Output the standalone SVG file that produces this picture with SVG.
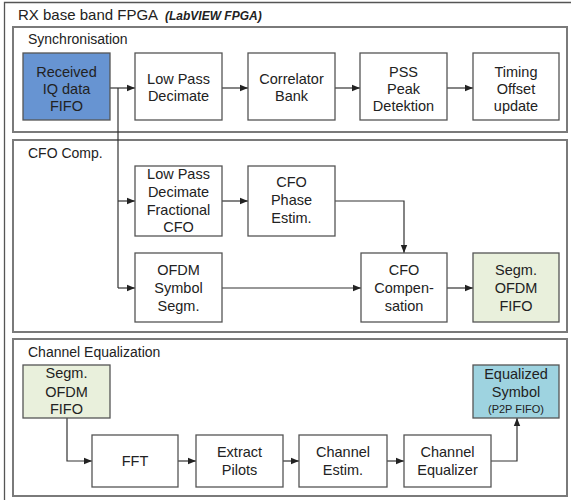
<svg xmlns="http://www.w3.org/2000/svg" width="571" height="500" viewBox="0 0 571 500">
  <style>
    text { font-family: "Liberation Sans", Arial, sans-serif; fill: #222; }
    .title { font-size: 15px; }
    .sub { font-size: 12px; font-weight: bold; font-style: italic; }
    .plabel { font-size: 14px; }
    .lbl { font-size: 14.5px; text-anchor: middle; }
    .small { font-size: 11px; text-anchor: middle; }
    .panel { fill: #fff; stroke: #7a7a7a; stroke-width: 2; }
    .box { fill: #fff; stroke: #555; stroke-width: 1.3; }
    .blue { fill: #6794d2; }
    .green { fill: #e9f0dc; }
    .cyan { fill: #9ed3e0; }
    .wire { fill: none; stroke: #333; stroke-width: 1.2; marker-end: url(#arr); }
    .line { fill: none; stroke: #333; stroke-width: 1.2; }
  </style>
  <defs>
    <marker id="arr" viewBox="0 0 10 10" refX="10" refY="5" markerWidth="8" markerHeight="8" markerUnits="userSpaceOnUse" orient="auto">
      <path d="M0,1 L10,5 L0,9 z" fill="#222"/>
    </marker>
  </defs>

  <rect width="571" height="500" fill="#fff"/>

  <!-- outer FPGA frame -->
  <g id="fpga">
    <path d="M4.5,500 V2.5 H571" fill="none" stroke="#555" stroke-width="1.3"/>
    <text class="title" x="18" y="20">RX base band FPGA</text>
    <text class="sub" x="165" y="20">(LabVIEW FPGA)</text>
  </g>

  <!-- panels -->
  <g id="panel-sync">
    <rect class="panel" x="13" y="27" width="554" height="105"/>
    <text class="plabel" x="28" y="44">Synchronisation</text>
  </g>
  <g id="panel-cfo">
    <rect class="panel" x="13" y="140" width="554" height="192"/>
    <text class="plabel" x="28" y="158">CFO Comp.</text>
  </g>
  <g id="panel-eq">
    <rect class="panel" x="13" y="339" width="554" height="157"/>
    <text class="plabel" x="28" y="357">Channel Equalization</text>
  </g>

  <!-- connectors -->
  <g id="connectors">
    <path class="wire" d="M110,88 H135"/>
    <path class="wire" d="M222,88 H248"/>
    <path class="wire" d="M335,88 H360"/>
    <path class="wire" d="M447,88 H473"/>
    <path class="line" d="M118,88 V288"/>
    <path class="wire" d="M118,201 H135"/>
    <path class="wire" d="M118,288 H135"/>
    <path class="wire" d="M222,201 H248"/>
    <path class="wire" d="M335,201 H404 V253"/>
    <path class="wire" d="M222,288 H361"/>
    <path class="wire" d="M447,288 H473"/>
    <path class="wire" d="M67,418 V461 H92"/>
    <path class="wire" d="M178,461 H196"/>
    <path class="wire" d="M283,461 H299"/>
    <path class="wire" d="M387,461 H404"/>
    <path class="wire" d="M491,461 H517 V418"/>
  </g>

  <!-- synchronisation nodes -->
  <g id="rx-fifo">
    <rect class="box blue" x="23" y="53" width="87" height="67"/>
    <text class="lbl" x="66.5" y="77">Received</text>
    <text class="lbl" x="66.5" y="94">IQ data</text>
    <text class="lbl" x="66.5" y="111">FIFO</text>
  </g>
  <g id="lp-decimate">
    <rect class="box" x="135" y="53" width="87" height="67"/>
    <text class="lbl" x="178.5" y="84">Low Pass</text>
    <text class="lbl" x="178.5" y="101">Decimate</text>
  </g>
  <g id="correlator">
    <rect class="box" x="248" y="53" width="87" height="67"/>
    <text class="lbl" x="291.5" y="84">Correlator</text>
    <text class="lbl" x="291.5" y="101">Bank</text>
  </g>
  <g id="pss-peak">
    <rect class="box" x="360" y="53" width="87" height="67"/>
    <text class="lbl" x="403.5" y="77">PSS</text>
    <text class="lbl" x="403.5" y="94">Peak</text>
    <text class="lbl" x="403.5" y="111">Detektion</text>
  </g>
  <g id="timing">
    <rect class="box" x="473" y="53" width="86" height="67"/>
    <text class="lbl" x="516" y="77">Timing</text>
    <text class="lbl" x="516" y="94">Offset</text>
    <text class="lbl" x="516" y="111">update</text>
  </g>

  <!-- CFO compensation nodes -->
  <g id="lp-fractional">
    <rect class="box" x="135" y="166" width="87" height="70"/>
    <text class="lbl" x="178.5" y="179">Low Pass</text>
    <text class="lbl" x="178.5" y="197">Decimate</text>
    <text class="lbl" x="178.5" y="215">Fractional</text>
    <text class="lbl" x="178.5" y="232">CFO</text>
  </g>
  <g id="cfo-phase">
    <rect class="box" x="248" y="166" width="87" height="70"/>
    <text class="lbl" x="291.5" y="187">CFO</text>
    <text class="lbl" x="291.5" y="205">Phase</text>
    <text class="lbl" x="291.5" y="223">Estim.</text>
  </g>
  <g id="ofdm-segm">
    <rect class="box" x="135" y="253" width="87" height="69"/>
    <text class="lbl" x="178.5" y="275">OFDM</text>
    <text class="lbl" x="178.5" y="293">Symbol</text>
    <text class="lbl" x="178.5" y="311">Segm.</text>
  </g>
  <g id="cfo-comp">
    <rect class="box" x="361" y="253" width="86" height="69"/>
    <text class="lbl" x="404" y="275">CFO</text>
    <text class="lbl" x="404" y="293">Compen-</text>
    <text class="lbl" x="404" y="311">sation</text>
  </g>
  <g id="segm-fifo-out">
    <rect class="box green" x="473" y="253" width="86" height="69"/>
    <text class="lbl" x="516" y="275">Segm.</text>
    <text class="lbl" x="516" y="293">OFDM</text>
    <text class="lbl" x="516" y="311">FIFO</text>
  </g>

  <!-- channel equalization nodes -->
  <g id="segm-fifo-in">
    <rect class="box green" x="23" y="365" width="87" height="53"/>
    <text class="lbl" x="66.5" y="378">Segm.</text>
    <text class="lbl" x="66.5" y="397">OFDM</text>
    <text class="lbl" x="66.5" y="414">FIFO</text>
  </g>
  <g id="fft">
    <rect class="box" x="92" y="435" width="86" height="52"/>
    <text class="lbl" x="135" y="466">FFT</text>
  </g>
  <g id="extract-pilots">
    <rect class="box" x="196" y="435" width="87" height="52"/>
    <text class="lbl" x="239.5" y="457">Extract</text>
    <text class="lbl" x="239.5" y="475">Pilots</text>
  </g>
  <g id="channel-estim">
    <rect class="box" x="299" y="435" width="88" height="52"/>
    <text class="lbl" x="343" y="457">Channel</text>
    <text class="lbl" x="343" y="475">Estim.</text>
  </g>
  <g id="channel-equalizer">
    <rect class="box" x="404" y="435" width="87" height="52"/>
    <text class="lbl" x="447.5" y="457">Channel</text>
    <text class="lbl" x="447.5" y="475">Equalizer</text>
  </g>
  <g id="equalized-symbol">
    <rect class="box cyan" x="473" y="365" width="86" height="53"/>
    <text class="lbl" x="516" y="379">Equalized</text>
    <text class="lbl" x="516" y="397">Symbol</text>
    <text class="small" x="516" y="413">(P2P FIFO)</text>
  </g>
</svg>
